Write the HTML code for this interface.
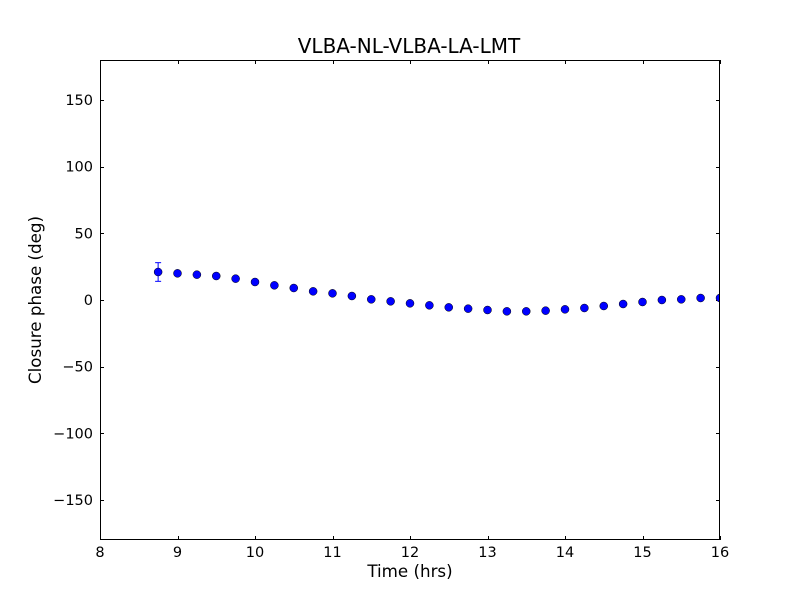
<!DOCTYPE html>
<html><head><meta charset="utf-8"><style>
html,body{margin:0;padding:0;background:#fff;}
text{font-family:"DejaVu Sans","Liberation Sans",sans-serif;}
</style></head><body>
<svg width="800" height="600" xmlns="http://www.w3.org/2000/svg">
<rect width="800" height="600" fill="#fff"/>
<g id="ticks" stroke="#000" stroke-width="1"></g>
<g id="labels" font-size="14.5" fill="#000"></g>
<clipPath id="c"><rect x="100" y="60" width="620" height="480"/></clipPath>
<g clip-path="url(#c)" id="pts"></g>
<rect x="100.5" y="60.5" width="619" height="479" fill="none" stroke="#000" stroke-width="1"/>
<text x="409" y="53" font-size="20" text-anchor="middle">VLBA-NL-VLBA-LA-LMT</text>
<text x="410" y="577" font-size="16.7" text-anchor="middle">Time (hrs)</text>
<text transform="translate(41,300) rotate(-90)" font-size="16.7" text-anchor="middle">Closure phase (deg)</text>
</svg>
<script>
const ns="http://www.w3.org/2000/svg";
function X(v){return 100+(v-8)*77.5;}
function Y(v){return 300-v*480/360;}
const tk=document.getElementById('ticks'),lb=document.getElementById('labels'),pt=document.getElementById('pts');
function el(p,t,a,txt){const e=document.createElementNS(ns,t);for(const k in a)e.setAttribute(k,a[k]);if(txt!==undefined)e.textContent=txt;p.appendChild(e);return e;}
for(let v=8;v<=16;v++){const x=Math.round(X(v))+0.5;
 el(tk,'line',{x1:x,y1:540,x2:x,y2:536});el(tk,'line',{x1:x,y1:60,x2:x,y2:64});
 el(lb,'text',{x:X(v),y:557,'text-anchor':'middle'},String(v));}
for(let v=-150;v<=150;v+=50){const y=Math.round(Y(v))+0.5;
 el(tk,'line',{x1:100,y1:y,x2:104,y2:y});el(tk,'line',{x1:720,y1:y,x2:716,y2:y});
 el(lb,'text',{x:93,y:Y(v)+5,'text-anchor':'end'},v<0?'\u2212'+(-v):String(v));}
const d=[21,20,19,18,16,13.5,11,9,6.5,5,3,0.5,-1,-2.5,-4,-5.5,-6.5,-7.5,-8.5,-8.5,-8,-7,-6,-4.5,-3,-1.5,0,0.5,1.5,1.5];
const x0=X(8.75);
el(pt,'line',{x1:x0,y1:Y(28),x2:x0,y2:Y(14),stroke:'#0000ff','stroke-width':1});
el(pt,'line',{x1:x0-3,y1:Y(28),x2:x0+3,y2:Y(28),stroke:'#0000ff','stroke-width':1});
el(pt,'line',{x1:x0-3,y1:Y(14),x2:x0+3,y2:Y(14),stroke:'#0000ff','stroke-width':1});
d.forEach((v,i)=>{el(pt,'circle',{cx:X(8.75+0.25*i),cy:Y(v),r:4,fill:'#0000ff',stroke:'#000','stroke-width':0.5});});
</script>
</body></html>
